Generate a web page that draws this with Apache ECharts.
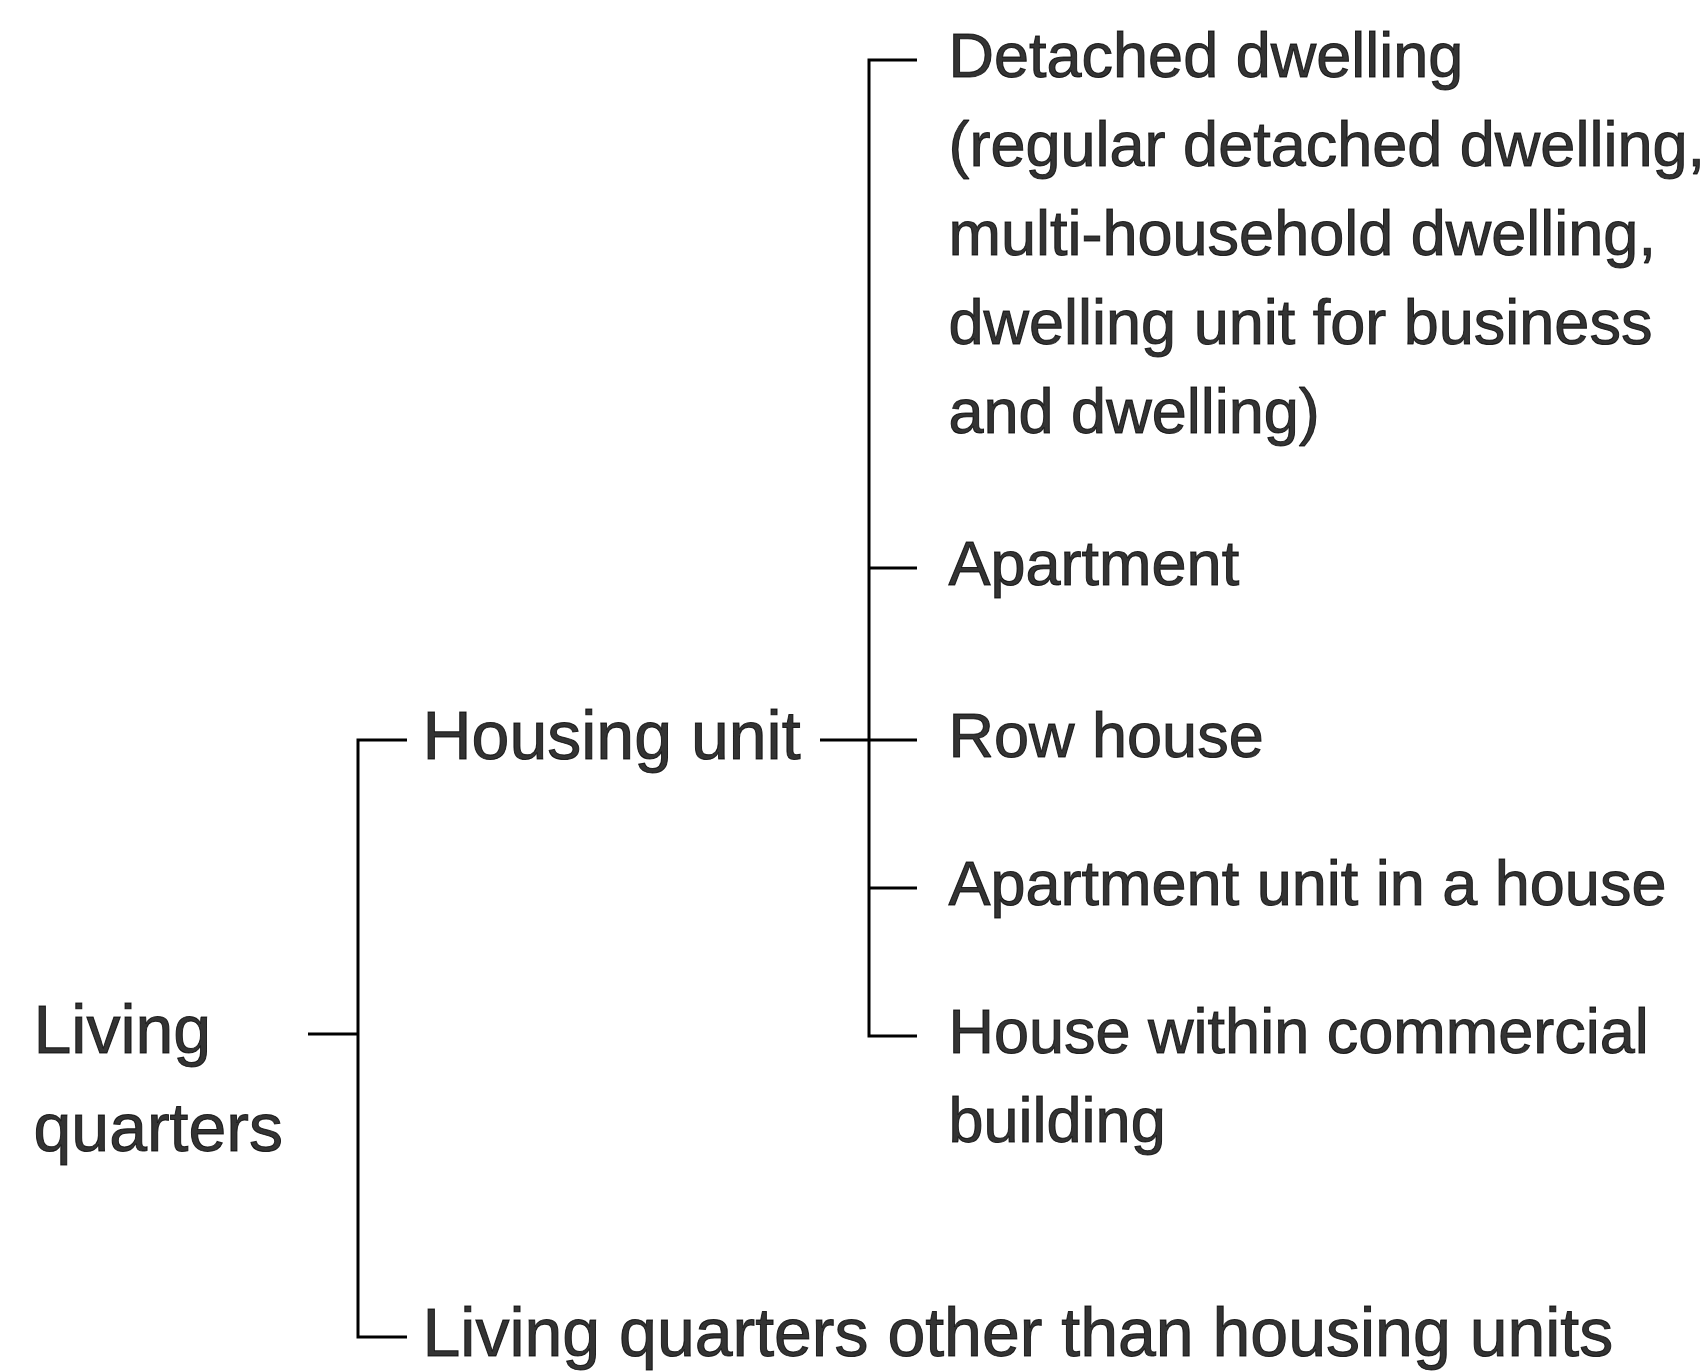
<!DOCTYPE html>
<html>
<head>
<meta charset="utf-8">
<script src="https://cdn.jsdelivr.net/npm/echarts@6/dist/echarts.min.js"></script>
<style>
    html, body { margin: 0; padding: 0; background: #fff; }
    #chart { width: 1705px; height: 1372px; }
</style>
</head>
<body>
<div id="chart"></div>
<script>
/* labels of the classification tree */
var rootLabel = 'Living\nquarters';
var branchLabels = ['Housing unit', 'Living quarters other than housing units'];
var housingTypes = [
    'Detached dwelling\n(regular detached dwelling,\nmulti-household dwelling,\ndwelling unit for business\nand dwelling)',
    'Apartment',
    'Row house',
    'Apartment unit in a house',
    'House within commercial\nbuilding'
];

/* layout, in page pixels (hidden axes run 0..W and 0..H) */
var W = 1705, H = 1372;
var rootX = 33, rootY = 1034, rootStubX = 308;
var branchBarX = 358, branchStubEnd = 407, branchTextX = 422;
var branchRows = [740, 1337];
var leafLinkX = 820, leafBarX = 869, leafStubEnd = 917, leafTextX = 948;
var leafRows = [60, 568, 740, 888, 1036];

var FONT = "'Liberation Sans', Arial, sans-serif";

function textLabel(fontSize, lineHeight) {
    return {
        show: true,
        position: 'right',
        distance: 0,
        align: 'left',
        verticalAlign: 'top',
        offset: [0, -lineHeight / 2],
        lineHeight: lineHeight,
        fontFamily: FONT,
        fontSize: fontSize,
        color: '#000',
        // the scanned print is heavier than the plain font
        textBorderColor: '#000',
        textBorderWidth: 1,
        formatter: '{b}'
    };
}

/* bracket lines */
var segments = [];
segments.push([[rootStubX, rootY], [branchBarX, rootY]]);
segments.push([[branchStubEnd, branchRows[0]], [branchBarX, branchRows[0]],
               [branchBarX, branchRows[1]], [branchStubEnd, branchRows[1]]]);
segments.push([[leafLinkX, branchRows[0]], [leafBarX, branchRows[0]]]);
var last = leafRows.length - 1;
segments.push([[leafStubEnd, leafRows[0]], [leafBarX, leafRows[0]],
               [leafBarX, leafRows[last]], [leafStubEnd, leafRows[last]]]);
for (var i = 1; i < last; i++) {
    segments.push([[leafBarX, leafRows[i]], [leafStubEnd, leafRows[i]]]);
}

/* text nodes */
var nodes = [];
nodes.push({ name: rootLabel, value: [rootX, rootY], label: textLabel(68, 98) });
branchLabels.forEach(function (name, k) {
    nodes.push({ name: name, value: [branchTextX, branchRows[k]], label: textLabel(68, 89) });
});
housingTypes.forEach(function (name, k) {
    nodes.push({ name: name, value: [leafTextX, leafRows[k]], label: textLabel(63, 89) });
});

var myChart = echarts.init(document.getElementById('chart'));

var option = {
    backgroundColor: '#fff',
    animation: false,
    grid: { left: 0, right: 0, top: 0, bottom: 0 },
    xAxis: { type: 'value', min: 0, max: W, show: false },
    yAxis: { type: 'value', min: 0, max: H, inverse: true, show: false },
    series: [
        {
            type: 'lines',
            coordinateSystem: 'cartesian2d',
            polyline: true,
            silent: true,
            lineStyle: { color: '#000', width: 3, opacity: 1 },
            data: segments.map(function (c) { return { coords: c }; })
        },
        {
            type: 'scatter',
            silent: true,
            symbolSize: 1,
            itemStyle: { color: 'rgba(0,0,0,0)' },
            data: nodes
        }
    ]
};

myChart.setOption(option);
</script>
</body>
</html>
